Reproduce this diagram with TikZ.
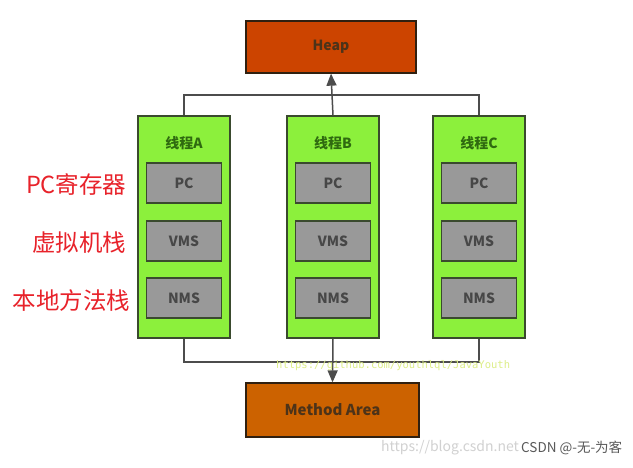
\documentclass[tikz,border=0pt]{standalone}
\usepackage{fontspec}
\setmainfont{Noto Sans CJK SC}
\newfontfamily\cjk{Noto Sans CJK SC}
\newfontfamily\monof{DejaVu Sans Mono}
\usetikzlibrary{arrows.meta}
\definecolor{heapc}{HTML}{CC4400}
\definecolor{methc}{HTML}{CC6200}
\definecolor{thrc}{HTML}{8CF03C}
\definecolor{grayc}{HTML}{999999}
\definecolor{bordc}{HTML}{3A4A2E}
\definecolor{lblc}{HTML}{2F6A10}
\definecolor{redc}{HTML}{E8222A}
\definecolor{ghc}{HTML}{DDEE88}
\begin{document}
\begin{tikzpicture}[x=1pt,y=-1pt,
  memarea/.style={draw=black!75!brown,line width=1.3pt,minimum width=170pt,minimum height=52pt,font=\cjk\bfseries\fontsize{14}{16}\selectfont,text=black!60!brown},
  thread/.style={draw=bordc,line width=1.3pt,fill=thrc,minimum width=92pt,minimum height=222pt},
  inner/.style={draw=bordc,line width=1.3pt,fill=grayc,minimum width=75pt,minimum height=40pt,font=\cjk\bfseries\fontsize{14}{16}\selectfont,text=black!72},
  tlabel/.style={font=\cjk\bfseries\fontsize{14}{16}\selectfont,text=lblc},
  redlbl/.style={font=\cjk\fontsize{23.5}{26}\selectfont,text=redc,anchor=east},
  conn/.style={draw=black!70,line width=1.5pt},
  arr/.style={conn,-{Triangle[length=12pt,width=10pt]}}]
\useasboundingbox[fill=white] (0,0) rectangle (633,467);
\node[memarea,fill=heapc] (heap) at (331,47) {Heap};
\node[memarea,fill=methc,minimum width=173pt,minimum height=54pt,font=\cjk\bfseries\fontsize{15}{17}\selectfont] (meth) at (332.5,410) {Method Area};
\foreach \n/\x/\l in {A/184/线程A,B/333/线程B,C/479/线程C}{
  \node[thread] (t\n) at (\x,227) {};
  \node[tlabel] (l\n) at (\x,143) {\l};
  \node[inner] (pc\n) at (\x,183) {PC};
  \node[inner] (vms\n) at (\x,241) {VMS};
  \node[inner] (nms\n) at (\x,298) {NMS};
}
\coordinate (topL) at (184,95);
\coordinate (topR) at (479,95);
\coordinate (botL) at (184,362);
\coordinate (botR) at (479,362);
\draw[conn] (tA.north) -- (topL) -- (topR) -- (tC.north);
\draw[arr] (tB.north) -- (heap.south);
\draw[conn] (tA.south) -- (botL) -- (botR) -- (tC.south);
\draw[arr] (tB.south) -- (meth.north);
\node[redlbl] (r1) at (130,184) {PC寄存器};
\node[redlbl] (r2) at (130,243) {虚拟机栈};
\node[redlbl] (r3) at (134,301) {本地方法栈};
\node[font=\monof\fontsize{10.5}{12}\selectfont,text=ghc,anchor=west,inner sep=0pt] (gh) at (276,366) {https://github.com/youthlql/JavaYouth};
\node[font=\fontsize{14}{16}\selectfont,text=black!18,anchor=west,inner sep=0pt] (bl) at (381,448) {https://blog.csdn.net};
\node[font=\cjk\fontsize{13.5}{16}\selectfont,text=black!65,anchor=west,inner sep=0pt] (cs) at (521,448) {CSDN @-无-为客};
\end{tikzpicture}
\end{document}
